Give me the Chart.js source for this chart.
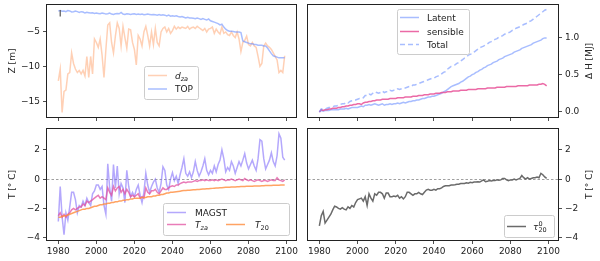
<!DOCTYPE html>
<html>
<head>
<meta charset="utf-8">
<title>Depth, heat and temperature 1980-2099</title>
<script src="https://cdn.jsdelivr.net/npm/chart.js@4.4.1/dist/chart.umd.min.js"></script>
<style>
  body { margin: 0; background: #fff; }
  #wrap { position: relative; width: 600px; height: 261px; }
  #wrap canvas { position: absolute; }
</style>
</head>
<body>
<div id="wrap">
  <canvas id="depth" width="300" height="125" style="left:0;top:0"></canvas>
  <canvas id="heat" width="300" height="125" style="left:300px;top:0"></canvas>
  <canvas id="temp" width="300" height="136" style="left:0;top:125px"></canvas>
  <canvas id="tau" width="300" height="136" style="left:300px;top:125px"></canvas>
</div>
<script>
// years on the x axis
const years = Array.from({ length: 120 }, (_, i) => 1980 + i);
const xTicks = [1980, 2000, 2020, 2040, 2060, 2080, 2100];

// top left: depths [m]
const dza = [
  -12.0, -10.3, -16.5, -13.5, -13.3, -11.0, -10.8, -8.0, -9.5, -10.3,
  -10.8, -10.5, -11.0, -10.5, -11.3, -8.5, -11.5, -8.5, -11.0, -6.0,
  -6.5, -7.2, -6.0, -8.3, -11.5, -7.5, -4.0, -3.7, -6.5, -8.0,
  -5.6, -3.7, -4.5, -7.0, -4.2, -5.8, -7.3, -4.6, -4.7, -6.5,
  -7.5, -9.7, -5.5, -6.0, -7.0, -5.0, -4.2, -5.5, -7.0, -5.0,
  -6.8, -4.5, -6.5, -7.0, -5.0, -4.5, -4.3, -5.0, -4.5, -5.2,
  -4.8, -4.2, -4.6, -4.3, -4.5, -4.3, -4.4, -4.5, -4.2, -4.6,
  -4.4, -4.3, -4.5, -4.2, -4.4, -4.6, -4.8, -4.5, -5.0, -4.6,
  -4.5, -4.3, -5.2, -4.6, -5.0, -5.3, -4.3, -5.2, -5.0, -5.4,
  -5.5, -5.0, -5.5, -5.8, -5.0, -6.0, -7.8, -6.5, -6.2, -5.6,
  -6.8, -7.0, -6.5, -7.0, -7.2, -8.5, -9.9, -9.5, -7.0, -6.6,
  -7.0, -7.2, -7.5, -8.0, -8.5, -9.0, -10.8, -10.5, -10.8, -8.4
];
const topDepth = [
  -2.0, -1.95, -2.05, -2.0, -2.1, -1.95, -2.0, -2.15, -2.1, -2.0,
  -2.1, -2.2, -2.1, -2.15, -2.3, -2.2, -2.25, -2.3, -2.25, -2.35,
  -2.3, -2.35, -2.4, -2.3, -2.35, -2.45, -2.4, -2.3, -2.45, -2.5,
  -2.4, -2.35, -2.4, -2.2, -2.45, -2.5, -2.4, -2.45, -2.5, -2.45,
  -2.4, -2.5, -2.45, -2.5, -2.45, -2.55, -2.5, -2.45, -2.5, -2.55,
  -2.5, -2.55, -2.6, -2.5, -2.6, -2.55, -2.6, -2.7, -2.6, -2.75,
  -2.7, -2.75, -2.7, -2.8, -2.85, -2.8, -2.9, -3.0, -2.9, -3.0,
  -3.0, -3.05, -3.1, -3.0, -3.1, -3.2, -3.1, -3.2, -3.3, -3.15,
  -3.4, -3.5, -3.6, -3.7, -3.8, -4.0, -3.9, -4.3, -4.6, -4.8,
  -4.9, -4.9, -4.95, -5.0, -5.0, -5.0, -5.1, -6.3, -6.4, -6.5,
  -6.6, -6.7, -6.7, -6.8, -6.8, -6.9, -6.9, -6.9, -7.0, -7.0,
  -7.3, -7.7, -8.1, -8.4, -8.5, -8.6, -8.7, -8.7, -8.7, -8.7
];
const errYear = 1981;
const errBar = [-1.85, -2.8];

// top right: cumulative heat [MJ]
const latent = [
  0.00, 0.02, 0.01, 0.02, 0.02, 0.02, 0.03, 0.03, 0.03, 0.03,
  0.03, 0.04, 0.04, 0.04, 0.05, 0.04, 0.05, 0.06, 0.06, 0.06,
  0.06, 0.07, 0.08, 0.07, 0.09, 0.09, 0.10, 0.09, 0.10, 0.11,
  0.10, 0.09, 0.10, 0.11, 0.09, 0.10, 0.10, 0.11, 0.10, 0.11,
  0.11, 0.12, 0.11, 0.12, 0.13, 0.12, 0.13, 0.14, 0.14, 0.15,
  0.15, 0.16, 0.16, 0.17, 0.18, 0.18, 0.19, 0.20, 0.20, 0.21,
  0.21, 0.22, 0.23, 0.24, 0.25, 0.27, 0.28, 0.30, 0.32, 0.34,
  0.35, 0.36, 0.37, 0.38, 0.40, 0.41, 0.43, 0.45, 0.47, 0.48,
  0.50, 0.51, 0.53, 0.54, 0.56, 0.57, 0.59, 0.60, 0.62, 0.63,
  0.64, 0.66, 0.67, 0.68, 0.70, 0.71, 0.72, 0.74, 0.75, 0.76,
  0.77, 0.78, 0.80, 0.81, 0.82, 0.83, 0.85, 0.86, 0.87, 0.88,
  0.89, 0.90, 0.92, 0.93, 0.94, 0.95, 0.96, 0.98, 0.99, 0.99
];
const sensible = [
  0.00, 0.03, 0.02, 0.03, 0.03, 0.04, 0.04, 0.05, 0.05, 0.05,
  0.06, 0.06, 0.07, 0.07, 0.08, 0.08, 0.09, 0.09, 0.10, 0.10,
  0.11, 0.11, 0.10, 0.12, 0.13, 0.13, 0.14, 0.14, 0.15, 0.15,
  0.16, 0.16, 0.16, 0.17, 0.17, 0.17, 0.17, 0.18, 0.18, 0.18,
  0.18, 0.19, 0.19, 0.19, 0.19, 0.20, 0.20, 0.20, 0.20, 0.21,
  0.21, 0.21, 0.22, 0.22, 0.22, 0.23, 0.23, 0.23, 0.24, 0.24,
  0.24, 0.25, 0.25, 0.25, 0.26, 0.26, 0.26, 0.27, 0.27, 0.27,
  0.28, 0.28, 0.28, 0.28, 0.29, 0.29, 0.29, 0.29, 0.30, 0.30,
  0.30, 0.30, 0.30, 0.31, 0.31, 0.31, 0.31, 0.31, 0.32, 0.32,
  0.32, 0.32, 0.32, 0.33, 0.33, 0.33, 0.33, 0.33, 0.34, 0.34,
  0.34, 0.34, 0.34, 0.34, 0.35, 0.35, 0.35, 0.35, 0.35, 0.35,
  0.36, 0.36, 0.36, 0.36, 0.36, 0.37, 0.37, 0.38, 0.37, 0.35
];
const total = [
  0.00, 0.04, 0.03, 0.04, 0.05, 0.06, 0.06, 0.07, 0.08, 0.08,
  0.09, 0.10, 0.11, 0.11, 0.13, 0.12, 0.14, 0.15, 0.16, 0.16,
  0.17, 0.18, 0.18, 0.19, 0.22, 0.22, 0.24, 0.23, 0.25, 0.27,
  0.26, 0.25, 0.26, 0.28, 0.26, 0.27, 0.27, 0.29, 0.28, 0.29,
  0.29, 0.31, 0.30, 0.31, 0.32, 0.32, 0.33, 0.34, 0.34, 0.36,
  0.36, 0.37, 0.38, 0.39, 0.40, 0.41, 0.42, 0.43, 0.44, 0.45,
  0.45, 0.47, 0.48, 0.49, 0.51, 0.53, 0.54, 0.57, 0.59, 0.61,
  0.62, 0.63, 0.65, 0.66, 0.68, 0.70, 0.72, 0.73, 0.76, 0.77,
  0.78, 0.80, 0.82, 0.84, 0.86, 0.87, 0.88, 0.90, 0.91, 0.93,
  0.94, 0.96, 0.97, 0.98, 1.00, 1.01, 1.02, 1.04, 1.05, 1.06,
  1.07, 1.09, 1.10, 1.12, 1.13, 1.14, 1.15, 1.17, 1.18, 1.19,
  1.21, 1.22, 1.24, 1.26, 1.28, 1.30, 1.32, 1.34, 1.36, 1.37
];

// bottom left: temperatures [deg C]
const magst = [
  -2.9, -0.5, -2.6, -3.8, -2.3, -2.8, -1.9, -0.9, -0.9, -1.4,
  -2.3, -1.8, -1.9, -1.5, -1.8, -1.3, -1.6, -1.8, -1.0, -0.8,
  -0.4, -0.4, -0.7, -0.5, -1.8, -2.4, 1.05, -0.6, -1.5, 1.0,
  -0.6, 0.9, -1.0, -0.3, -0.6, -1.6, 0.6, -0.5, -1.2, -0.9,
  -1.2, -0.7, -0.4, -1.1, -1.6, -0.9, 0.4, -0.4, -0.9, -0.5,
  -0.2, 0.0, -0.6, -0.9, -0.3, 0.85, 0.6, -0.4, -0.7, 0.0,
  0.45, -0.1, 0.2, -0.3, 0.3, 0.8, 1.4, 0.4, 0.2, 0.5,
  0.1, 0.5, 1.2, 0.6, 0.2, 0.5, 0.9, 1.4, 0.6, 0.3,
  0.6, 0.4, 0.9, 0.5, 1.0, 1.3, 2.0, 1.4, 0.5, 0.8,
  0.6, 1.2, 0.9, 0.4, 0.8, 1.2, 0.9, 1.3, 1.75, 1.1,
  0.7, 1.0, 1.3, 0.9, 0.6, 1.4, 2.7, 2.6, 1.4, 0.7,
  1.0, 1.3, 1.8, 1.2, 0.9, 1.6, 3.1, 2.8, 1.5, 1.3
];
const tza = [
  -2.5, -2.3, -2.6, -2.4, -2.6, -2.4, -2.3, -2.1, -2.0, -2.1,
  -2.0, -1.9, -1.9, -1.7, -1.8, -1.5, -1.6, -1.5, -1.4, -1.3,
  -1.2, -1.1, -1.3, -1.2, -1.3, -1.4, -0.6, -0.9, -1.1, -0.5,
  -0.8, -0.6, -0.5, -0.9, -0.7, -1.0, -0.7, -0.9, -1.2, -1.1,
  -1.2, -1.1, -1.0, -1.3, -1.2, -1.3, -0.6, -0.9, -1.0, -0.8,
  -0.8, -0.7, -0.9, -1.0, -0.8, -0.6, -0.7, -0.7, -0.6, -0.5,
  -0.45, -0.5, -0.4, -0.4, -0.3, -0.25, -0.2, -0.25, -0.2, -0.2,
  -0.2, -0.15, -0.1, -0.15, -0.1, -0.1, -0.05, -0.1, -0.05, -0.1,
  -0.1, -0.05, -0.1, -0.05, -0.1, -0.05, 0.0, -0.05, -0.1, -0.05,
  -0.05, 0.0, -0.05, -0.1, -0.05, 0.0, -0.05, -0.1, 0.05, -0.05,
  -0.1, -0.05, -0.1, -0.15, -0.1, -0.05, -0.1, -0.15, -0.1, -0.1,
  -0.15, -0.1, -0.05, -0.1, -0.1, 0.1, -0.05, -0.1, -0.15, -0.05
];
const t20 = [
  -2.6, -2.6, -2.55, -2.5, -2.5, -2.45, -2.4, -2.35, -2.3, -2.25,
  -2.2, -2.15, -2.1, -2.05, -2.05, -2.0, -2.0, -1.95, -1.9, -1.85,
  -1.85, -1.8, -1.75, -1.75, -1.7, -1.7, -1.65, -1.65, -1.6, -1.6,
  -1.55, -1.55, -1.5, -1.5, -1.45, -1.45, -1.4, -1.4, -1.35, -1.35,
  -1.3, -1.3, -1.3, -1.3, -1.25, -1.25, -1.25, -1.2, -1.2, -1.2,
  -1.15, -1.15, -1.1, -1.1, -1.05, -1.05, -1.0, -0.95, -0.95, -0.9,
  -0.9, -0.88, -0.86, -0.84, -0.82, -0.8, -0.78, -0.77, -0.76, -0.75,
  -0.74, -0.73, -0.72, -0.71, -0.7, -0.69, -0.68, -0.67, -0.66, -0.65,
  -0.64, -0.63, -0.62, -0.61, -0.6, -0.59, -0.58, -0.57, -0.56, -0.56,
  -0.55, -0.54, -0.54, -0.53, -0.52, -0.52, -0.51, -0.5, -0.5, -0.49,
  -0.49, -0.48, -0.48, -0.47, -0.47, -0.46, -0.46, -0.45, -0.45, -0.44,
  -0.44, -0.43, -0.43, -0.42, -0.42, -0.41, -0.41, -0.4, -0.4, -0.4
];

// bottom right
const tau20 = [
  -3.2, -2.5, -2.2, -3.0, -2.8, -2.6, -2.4, -2.1, -1.85, -1.9,
  -2.0, -2.05, -1.95, -2.05, -2.1, -1.9, -2.0, -1.8, -1.9, -1.6,
  -1.4, -1.35, -1.3, -1.5, -1.2, -1.8, -1.0, -1.3, -1.5, -1.0,
  -1.1, -0.9, -0.9, -1.0, -1.3, -0.95, -0.95, -1.2, -1.2, -1.15,
  -1.2, -1.1, -1.3, -1.2, -1.35, -1.2, -0.9, -0.9, -1.0, -1.1,
  -1.0, -1.0, -0.9, -1.0, -1.05, -0.9, -0.75, -0.7, -0.75, -0.75,
  -0.7, -0.75, -0.65, -0.65, -0.6, -0.5, -0.45, -0.45, -0.45, -0.4,
  -0.4, -0.38, -0.35, -0.35, -0.3, -0.3, -0.3, -0.25, -0.28, -0.22,
  -0.25, -0.2, -0.2, -0.18, -0.2, -0.12, -0.05, -0.18, -0.15, -0.1,
  -0.12, -0.1, -0.1, -0.05, -0.08, -0.05, 0.05, 0.05, -0.05, -0.1,
  -0.05, -0.05, 0.0, -0.05, 0.0, 0.05, 0.25, 0.1, 0.0, 0.1,
  0.0, 0.05, 0.1, 0.1, 0.15, 0.1, 0.4, 0.3, 0.15, 0.05
];

const ink = '#222';
const cDza = 'rgba(255,170,120,0.55)';
const cBlue = 'rgba(110,145,255,0.6)';
const cSens = 'rgba(232,80,150,0.85)';
const cMagst = 'rgba(130,110,250,0.6)';
const cTza = 'rgba(225,80,160,0.75)';
const cT20 = 'rgba(255,140,60,0.8)';
const cTau = '#6a6a6a';

Chart.defaults.font.family = '"DejaVu Sans", sans-serif';
Chart.defaults.font.size = 9;
Chart.defaults.color = ink;
Chart.defaults.animation = false;

const pts = vals => vals.map((v, i) => ({ x: years[i], y: v }));
const minus = v => String(v).replace('-', '\u2212');

function line(vals, color, order, dash) {
  return {
    data: pts(vals), borderColor: color, borderWidth: 1.5, borderDash: dash || [],
    pointRadius: 0, tension: 0, fill: false, order: order
  };
}

function xAxis(showLabels, h) {
  return {
    type: 'linear', min: 1974.05, max: 2104.95,
    afterBuildTicks: s => { s.ticks = xTicks.map(v => ({ value: v })); },
    afterFit: s => { s.height = h; s.paddingLeft = 0; s.paddingRight = 0; },
    ticks: { display: showLabels, padding: 2, maxRotation: 0, callback: v => String(v) },
    grid: { drawOnChartArea: false, tickLength: 4, tickColor: ink, tickWidth: 0.8 },
    border: { display: false }
  };
}

function yAxis(pos, min, max, ticks, fmt, w) {
  return {
    type: 'linear', position: pos, min: min, max: max,
    afterBuildTicks: s => { s.ticks = ticks.map(v => ({ value: v })); },
    afterFit: s => { s.width = w; s.paddingTop = 0; s.paddingBottom = 0; },
    ticks: { padding: 3, callback: fmt },
    grid: { drawOnChartArea: false, tickLength: 4, tickColor: ink, tickWidth: 0.8 },
    border: { display: false }
  };
}

// text with italic / sub / superscript pieces (mathtext-ish)
function drawRich(ctx, x, y, parts) {
  let cx = x;
  const base = y + 3.3;
  ctx.fillStyle = ink;
  ctx.textAlign = 'left';
  ctx.textBaseline = 'alphabetic';
  for (const p of parts) {
    const small = p.sub || p.sup;
    ctx.font = (p.it ? 'italic ' : '') + (small ? '6.5px' : '9px') + ' "DejaVu Sans"';
    const dy = p.sub ? 2.2 : p.sup ? -4 : 0;
    ctx.fillText(p.t, cx, base + dy);
    if (!p.stack) cx += ctx.measureText(p.t).width;
  }
}

function drawLegend(ctx, lg) {
  const b = lg.box;
  ctx.save();
  ctx.fillStyle = 'rgba(255,255,255,0.8)';
  ctx.strokeStyle = '#cccccc';
  ctx.lineWidth = 1;
  ctx.beginPath();
  ctx.roundRect(b[0] + 0.5, b[1] + 0.5, b[2], b[3], 2);
  ctx.fill();
  ctx.stroke();
  for (const it of lg.items) {
    ctx.strokeStyle = it.color;
    ctx.lineWidth = 1.5;
    ctx.setLineDash(it.dash || []);
    ctx.beginPath();
    ctx.moveTo(it.x, it.y);
    ctx.lineTo(it.x + 19, it.y);
    ctx.stroke();
    ctx.setLineDash([]);
    drawRich(ctx, it.tx, it.y, it.label);
  }
  ctx.restore();
}

function decor(o) {
  return {
    id: 'decor',
    beforeDatasetsDraw(chart) {
      if (!o.zero) return;
      const { ctx, chartArea: a } = chart;
      const y = Math.round(chart.scales.y.getPixelForValue(0)) + 0.5;
      ctx.save();
      ctx.strokeStyle = '#888';
      ctx.lineWidth = 0.8;
      ctx.setLineDash([2.5, 2]);
      ctx.beginPath();
      ctx.moveTo(a.left, y);
      ctx.lineTo(a.right, y);
      ctx.stroke();
      ctx.restore();
    },
    afterDraw(chart) {
      const { ctx, chartArea: a } = chart;
      ctx.save();
      // frame round the axes
      ctx.strokeStyle = ink;
      ctx.lineWidth = 1;
      const l = Math.round(a.left) - 0.5, t = Math.round(a.top) - 0.5;
      ctx.strokeRect(l, t, Math.round(a.right) - Math.round(a.left) + 1, Math.round(a.bottom) - Math.round(a.top) + 1);
      // y title, read bottom to top
      ctx.translate(o.titleX, (a.top + a.bottom) / 2);
      ctx.rotate(-Math.PI / 2);
      ctx.fillStyle = ink;
      ctx.font = '9px "DejaVu Sans"';
      ctx.textAlign = 'center';
      ctx.textBaseline = 'middle';
      ctx.fillText(o.title, 0, 0);
      ctx.restore();
      drawLegend(ctx, o.legend);
    }
  };
}

function opts(x, y, pad) {
  return {
    responsive: false,
    events: [],
    layout: { padding: pad, autoPadding: false },
    plugins: { legend: { display: false }, tooltip: { enabled: false } },
    scales: { x: x, y: y }
  };
}

new Chart(document.getElementById('depth'), {
  type: 'line',
  data: {
    datasets: [
      line(dza, cDza, 3),
      line(topDepth, cBlue, 2),
      { data: [{ x: errYear, y: errBar[0] }, { x: errYear, y: errBar[1] }], borderColor: '#555', borderWidth: 1.2, pointRadius: 0, order: 1 }
    ]
  },
  options: opts(xAxis(false, 8), yAxis('left', -17.15, -1.15, [-15, -10, -5], minus, 47),
    { top: 5, right: 4, left: 0, bottom: 0 }),
  plugins: [decor({
    title: 'Z [m]', titleX: 12.5,
    legend: {
      box: [144, 66, 54, 33],
      items: [
        { x: 148, y: 75.5, tx: 175, color: cDza, label: [{ t: 'd', it: 1 }, { t: 'za', it: 1, sub: 1 }] },
        { x: 148, y: 89, tx: 175, color: cBlue, label: [{ t: 'TOP' }] }
      ]
    }
  })]
});

new Chart(document.getElementById('heat'), {
  type: 'line',
  data: {
    datasets: [
      line(latent, cBlue, 3),
      line(sensible, cSens, 2),
      line(total, cBlue, 1, [5, 3])
    ]
  },
  options: opts(xAxis(false, 8), yAxis('right', -0.067, 1.43, [0, 0.5, 1], v => v.toFixed(1), 42),
    { top: 5, right: 0, left: 8, bottom: 0 }),
  plugins: [decor({
    title: '\u0394 H [MJ]', titleX: 290,
    legend: {
      box: [97, 9, 72, 45],
      items: [
        { x: 100, y: 17.5, tx: 127, color: cBlue, label: [{ t: 'Latent' }] },
        { x: 100, y: 31.5, tx: 127, color: cSens, label: [{ t: 'sensible' }] },
        { x: 100, y: 44.5, tx: 127, color: cBlue, dash: [5, 3], label: [{ t: 'Total' }] }
      ]
    }
  })]
});

new Chart(document.getElementById('temp'), {
  type: 'line',
  data: {
    datasets: [
      line(magst, cMagst, 3),
      line(tza, cTza, 2),
      line(t20, cT20, 1)
    ]
  },
  options: opts(xAxis(true, 21), yAxis('left', -4.16, 3.43, [-4, -2, 0, 2], minus, 47),
    { top: 4, right: 4, left: 0, bottom: 0 }),
  plugins: [decor({
    title: 'T [\u00b0 C]', titleX: 12.5, zero: true,
    legend: {
      box: [163, 78, 126, 32],
      items: [
        { x: 167, y: 87.5, tx: 195, color: cMagst, label: [{ t: 'MAGST' }] },
        { x: 167, y: 99.5, tx: 195, color: cTza, label: [{ t: 'T', it: 1 }, { t: 'za', it: 1, sub: 1 }] },
        { x: 226, y: 99.5, tx: 255, color: cT20, label: [{ t: 'T', it: 1 }, { t: '20', sub: 1 }] }
      ]
    }
  })]
});

new Chart(document.getElementById('tau'), {
  type: 'line',
  data: { datasets: [line(tau20, cTau, 1)] },
  options: opts(xAxis(true, 21), yAxis('right', -4.16, 3.43, [-4, -2, 0, 2], minus, 42),
    { top: 4, right: 0, left: 8, bottom: 0 }),
  plugins: [decor({
    title: 'T [\u00b0 C]', titleX: 290, zero: true,
    legend: {
      box: [204, 90, 50, 22],
      items: [
        { x: 207, y: 101.5, tx: 233, color: cTau, label: [{ t: '\u03c4', it: 1 }, { t: '0', sup: 1, stack: 1 }, { t: '20', sub: 1 }] }
      ]
    }
  })]
});
</script>
</body>
</html>
